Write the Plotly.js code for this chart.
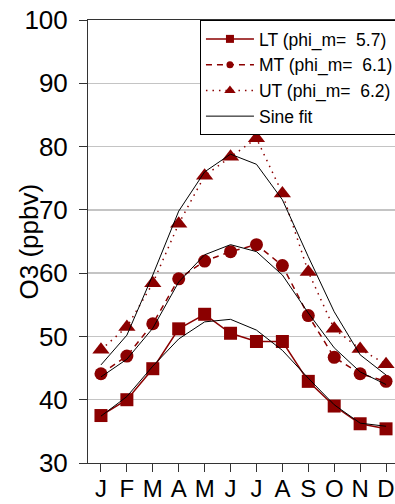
<!DOCTYPE html>
<html>
<head>
<meta charset="utf-8">
<script src="https://cdn.plot.ly/plotly-3.0.1.min.js"></script>
<style>
html, body { margin: 0; padding: 0; overflow: hidden; background: #fff; }
#chart { width: 410px; height: 504px; }
</style>
</head>
<body>
<div id="chart"></div>
<script>
const months = ['J','F','M','A','M','J','J','A','S','O','N','D'];
const monthIndex = [1,2,3,4,5,6,7,8,9,10,11,12];
const ltValues = [37.5, 40.0, 44.9, 51.2, 53.5, 50.5, 49.2, 49.2, 42.9, 39.0, 36.2, 35.4];
const mtValues = [44.1, 46.9, 52.0, 59.1, 61.9, 63.4, 64.5, 61.2, 53.3, 46.7, 44.1, 42.9];
const utValues = [47.9, 51.5, 58.4, 67.8, 75.4, 78.4, 81.3, 72.6, 60.2, 51.2, 48.0, 45.6];
const ltFit = [37.4, 40.5, 45.3, 49.6, 52.3, 52.7, 51.0, 47.8, 43.4, 39.2, 36.3, 35.8];
const mtFit = [43.6, 46.4, 51.3, 58.6, 62.9, 64.5, 63.4, 59.7, 53.7, 48.2, 44.4, 42.4];
const utFit = [45.5, 50.2, 59.7, 69.8, 76.0, 78.8, 77.2, 71.6, 62.6, 53.9, 47.1, 43.9];
const seriesNames = ['LT (phi_m=\u00a0 5.7)', 'MT (phi_m=\u00a0 6.1)', 'UT (phi_m=\u00a0 6.2)', 'Sine fit'];
const yTicks = [30, 40, 50, 60, 70, 80, 90, 100];

const red = '#8b0000';
const font = 'Liberation Sans, Arial, Helvetica, sans-serif';

function dataTrace(y, symbol, size, dash) {
  return {
    x: monthIndex, y: y, type: 'scatter', mode: 'lines+markers',
    line: {color: red, width: 1.5, dash: dash},
    marker: {color: red, symbol: symbol, size: size},
    showlegend: false, hoverinfo: 'x+y'
  };
}
function fitTrace(y) {
  return {
    x: monthIndex, y: y, type: 'scatter', mode: 'lines',
    line: {color: '#000', width: 1},
    showlegend: false
  };
}
function legendTrace(name, symbol, size, dash, mode, color, width) {
  return {
    x: [null], y: [null], type: 'scatter', mode: mode, name: name,
    line: {color: color, width: width, dash: dash},
    marker: {color: color, symbol: symbol, size: size},
    showlegend: true, hoverinfo: 'skip'
  };
}

const traces = [
  dataTrace(ltValues, 'square', 13, 'solid'),
  dataTrace(mtValues, 'circle', 13, '6px,5px'),
  dataTrace(utValues, 'triangle-up', 15, '1.5px,5px'),
  fitTrace(ltFit),
  fitTrace(mtFit),
  fitTrace(utFit),
  legendTrace(seriesNames[0], 'square', 8, 'solid', 'lines+markers', red, 1.5),
  legendTrace(seriesNames[1], 'circle', 7, '6px,5px', 'lines+markers', red, 1.5),
  legendTrace(seriesNames[2], 'triangle-up', 10, '1.5px,5px', 'lines+markers', red, 1.5),
  legendTrace(seriesNames[3], 'circle', 1, 'solid', 'lines', '#000', 1)
];

const layout = {
  width: 410, height: 504,
  margin: {l: 88, r: 11, t: 20, b: 41},
  paper_bgcolor: '#fff', plot_bgcolor: '#fff',
  font: {family: font, color: '#000'},
  showlegend: true,
  legend: {
    x: 0.36, xanchor: 'left', y: 1, yanchor: 'top',
    bgcolor: '#fff', bordercolor: '#000', borderwidth: 1,
    font: {family: font, size: 17.5, color: '#000'},
    itemwidth: 48, traceorder: 'normal'
  },
  xaxis: {
    range: [0.5, 12.5], tickmode: 'array', tickvals: monthIndex, ticktext: months,
    ticks: 'outside', ticklen: 8, tickwidth: 1, tickcolor: '#333',
    showline: true, linecolor: '#333', linewidth: 1, mirror: true,
    showgrid: false, zeroline: false,
    tickfont: {family: font, size: 24, color: '#000'},
    ticklabelstandoff: -4
  },
  yaxis: {
    range: [30, 100], tickmode: 'array', tickvals: yTicks,
    ticks: 'outside', ticklen: 8, tickwidth: 1, tickcolor: '#333',
    showline: true, linecolor: '#333', linewidth: 1,
    showgrid: true, gridcolor: '#c4c4c4', gridwidth: 1.5, zeroline: false,
    tickfont: {family: font, size: 26, color: '#000'},
    ticklabelstandoff: 6
  },
  annotations: [{
    text: 'O3 (ppbv)', xref: 'paper', yref: 'paper', x: 0, y: 0.5,
    xshift: -60, xanchor: 'center', yanchor: 'middle', textangle: -90,
    showarrow: false, font: {family: font, size: 26, color: '#000'}
  }]
};

Plotly.newPlot('chart', traces, layout, {displayModeBar: false, staticPlot: true});
</script>
</body>
</html>
